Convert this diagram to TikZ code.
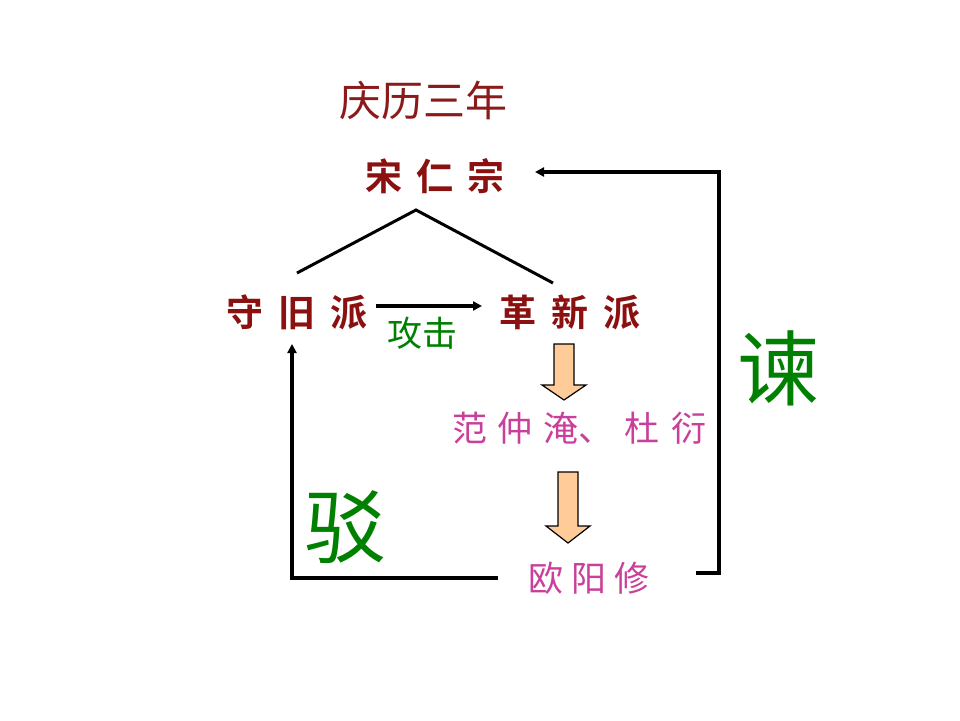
\documentclass[tikz,border=0pt]{standalone}
\usepackage{fontspec}
\usetikzlibrary{arrows.meta}
\newfontfamily\cjk{Noto Sans CJK SC}
\newfontfamily\cjkb{Noto Sans CJK SC Bold}
\definecolor{dred}{HTML}{8B1010}
\definecolor{tred}{HTML}{8B1A1A}
\definecolor{dgreen}{HTML}{008000}
\definecolor{mag}{HTML}{C8409A}
\definecolor{orng}{HTML}{FFCC99}
\begin{document}
\begin{tikzpicture}[x=1pt,y=-1pt,
  faction/.style={font=\cjkb\fontsize{37}{37}\selectfont, text=dred, inner sep=0pt},
  person/.style={font=\cjk\fontsize{35}{35}\selectfont, text=mag, inner sep=0pt},
  bigword/.style={font=\cjk\fontsize{82}{82}\selectfont, text=dgreen, inner sep=0pt},
  conn/.style={draw=black, line width=3.5pt},
  tip/.style={-{Triangle[width=9pt,length=9pt]}},
  blockarrow/.style={draw=black, line width=1.2pt, fill=orng, line join=miter}]
\useasboundingbox (0,0) rectangle (960,720);
\node[font=\cjk\fontsize{42}{42}\selectfont, text=tred, inner sep=0pt] (year) at (423,100) {庆历三年};
\node[faction] (emperor) at (435,176) {宋\hspace{14pt}仁\hspace{14pt}宗};
\node[faction] (old) at (297,312) {守\hspace{15pt}旧\hspace{15pt}派};
\node[faction] (new) at (570,312) {革\hspace{15pt}新\hspace{15pt}派};
\node[font=\cjk\fontsize{35}{35}\selectfont, text=dgreen, inner sep=0pt] (attack) at (422,333) {攻击};
\node[person] (fan) at (579,428) {范\hspace{11pt}仲\hspace{11pt}淹、\hspace{11pt}杜\hspace{11pt}衍};
\node[person] (ou) at (589,578) {欧\hspace{8pt}阳\hspace{8pt}修};
\node[bigword] (jian) at (778,368) {谏};
\node[bigword] (bo) at (345,527) {驳};
% roof
\coordinate (roofL) at (297,273);
\coordinate (roofT) at (416,210);
\coordinate (roofR) at (553,283);
\draw[draw=black, line width=3pt, line join=miter] (roofL) -- (roofT) -- (roofR);
% attack arrow
\coordinate (a1) at (376,306);
\coordinate (a2) at (482,306);
\draw[conn, tip] (a1) -- (a2);
% left return
\coordinate (l1) at (498,578);
\coordinate (l2) at (292,578);
\coordinate (l3) at (292,344);
\draw[conn, tip, line join=miter] (l1) -- (l2) -- (l3);
% right return
\coordinate (r1) at (696,573);
\coordinate (r2) at (719,573);
\coordinate (r3) at (719,172);
\coordinate (r4) at (535,172);
\draw[conn, tip, line join=miter] (r1) -- (r2) -- (r3) -- (r4);
% block arrows
\draw[blockarrow] (554,344) -- (574,344) -- (574,385) -- (586,385) -- (564,400) -- (542,385) -- (554,385) -- cycle;
\draw[blockarrow] (558,472) -- (578,472) -- (578,526) -- (590,526) -- (568,543) -- (546,526) -- (558,526) -- cycle;
\end{tikzpicture}
\end{document}
